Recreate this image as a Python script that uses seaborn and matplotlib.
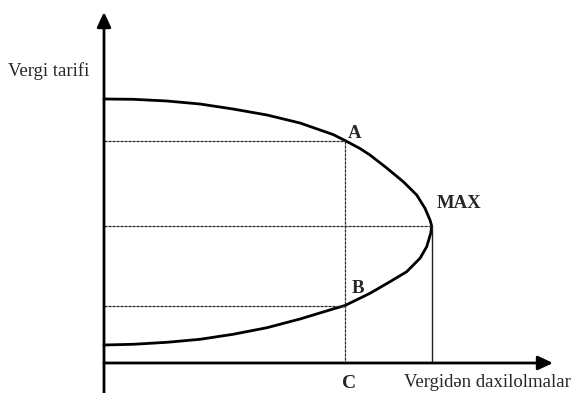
import matplotlib
matplotlib.use("Agg")
import matplotlib.pyplot as plt
import seaborn as sns
import pandas as pd

# Laffer curve (revenue on x, tax rate on y; origin at axes crossing)
revenue = [0, 29, 63, 96, 129, 163, 196, 229, 241, 256, 266, 282.7, 299.3, 312.7, 321, 326, 327.7,
           326.7, 322.7, 316, 302.7, 286, 266, 241, 229, 196, 163, 129, 96, 63, 29, 0]
tax_rate = [264, 263.7, 262, 259, 254, 248, 240, 228.5, 222.5, 214.5, 208, 195, 181.3, 168, 154.7, 143, 137,
            129.7, 116.3, 104.7, 91.3, 81.3, 69.7, 57.5, 54, 44, 35.3, 28.7, 23.7, 20.7, 18.7, 18]

point_names = ["A", "MAX", "B"]
point_revenue = [241, 327.7, 241]
point_rate = [222.5, 137, 57.5]

y_label = "Vergi tarifi"
x_label = "Vergidən daxilolmalar"
c_label = "C"

sns.set_theme(style="white")
plt.rcParams["font.family"] = ["Liberation Serif", "DejaVu Serif"]

fig = plt.figure(figsize=(5.72, 3.93), dpi=100)
ax = fig.add_axes([0, 0, 1, 1])
ax.set_xlim(-104, 468)
ax.set_ylim(-30, 363)
ax.axis("off")

df = pd.DataFrame({"revenue": revenue, "rate": tax_rate})
sns.lineplot(data=df, x="revenue", y="rate", sort=False, estimator=None,
             color="black", lw=2.0, ax=ax)

pts = dict(zip(point_names, zip(point_revenue, point_rate)))
guide = dict(color="#2a2a2a", lw=0.9, linestyle=(0, (2.5, 0.7)))
# horizontal guides from the tax-rate axis to A, MAX, B
for name in point_names:
    rx, ry = pts[name]
    ax.plot([0, rx], [ry, ry], **guide)
# vertical guide through A and B down to C
ax.plot([pts["A"][0], pts["A"][0]], [pts["A"][1], 0], **guide)
# vertical line under MAX
ax.plot([pts["MAX"][0], pts["MAX"][0]], [pts["MAX"][1], 0], color="#222222", lw=1.0)

# axes with arrows
arrow = dict(arrowstyle="-|>,head_length=0.9,head_width=0.42", lw=2.0, color="black",
             mutation_scale=10, shrinkA=0, shrinkB=0)
ax.annotate("", xy=(0, 351), xytext=(0, -30), arrowprops=arrow)
ax.annotate("", xy=(449, 0), xytext=(0, 0), arrowprops=arrow)

# labels
ax.text(-96, 287, y_label, fontsize=13.5, ha="left", va="baseline")
ax.text(300, -24, x_label, fontsize=13.5, ha="left", va="baseline")
ax.text(pts["A"][0] + 4.5, -25, c_label, fontsize=14, fontweight="bold", ha="center", va="baseline")
ax.text(pts["A"][0] + 3, 225, "A", fontsize=13.5, fontweight="bold", ha="left", va="baseline")
ax.text(pts["B"][0] + 6.7, 70, "B", fontsize=13.5, fontweight="bold", ha="left", va="baseline")
ax.text(pts["MAX"][0] + 5, 155, "MAX", fontsize=13.5, fontweight="bold", ha="left", va="baseline")

fig.savefig("out.png", dpi=100, facecolor="white")
